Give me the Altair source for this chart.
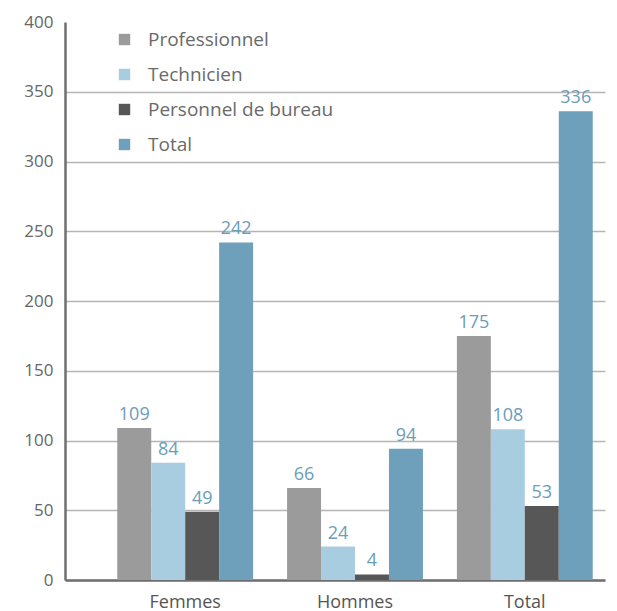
import altair as alt
import pandas as pd

groups = ["Femmes", "Hommes", "Total"]
series = ["Professionnel", "Technicien", "Personnel de bureau", "Total"]
values = {
    "Professionnel": [109, 66, 175],
    "Technicien": [84, 24, 108],
    "Personnel de bureau": [49, 4, 53],
    "Total": [242, 94, 336],
}
colors = ["#9b9b9b", "#a8cde0", "#575757", "#6e9fbb"]

rows = []
for s in series:
    for g, v in zip(groups, values[s]):
        rows.append({"groupe": g, "serie": s, "valeur": v})
df = pd.DataFrame(rows)

FONT = "Open Sans"

base = alt.Chart(df).encode(
    x=alt.X("groupe:N", sort=groups, title=None,
            scale=alt.Scale(paddingInner=0.2, paddingOuter=0.19, align=0.81),
            axis=alt.Axis(labelAngle=0, labelFontSize=18, labelColor="#555555",
                          labelFont=FONT, ticks=False, domainColor="#6f6f6f",
                          domainWidth=2.5, labelPadding=13)),
    xOffset=alt.XOffset("serie:N", sort=series),
)

bars = base.mark_bar().encode(
    y=alt.Y("valeur:Q", title=None,
            scale=alt.Scale(domain=[0, 400], nice=False),
            axis=alt.Axis(values=[0, 50, 100, 150, 200, 250, 300, 350, 400],
                          labelFontSize=17, labelColor="#666666", labelFont=FONT,
                          ticks=False, domainColor="#6f6f6f", domainWidth=2.5,
                          gridColor="#b5b5b5", gridWidth=1.5, labelPadding=12,
                          gridOpacity={"condition": {"test": "datum.value == 400", "value": 0},
                                       "value": 1})),
    color=alt.Color("serie:N", sort=series,
                    scale=alt.Scale(domain=series, range=colors),
                    legend=alt.Legend(title=None, orient="none", legendX=50, legendY=8,
                                      symbolType="square", symbolSize=130,
                                      symbolStrokeWidth=0, labelFontSize=19,
                                      labelColor="#6a6a6a", labelFont=FONT,
                                      rowPadding=15, labelOffset=14, labelLimit=400)),
)

labels = base.mark_text(baseline="bottom", dy=-4, fontSize=18, font=FONT,
                        color="#6a9dba").encode(
    y=alt.Y("valeur:Q"),
    text=alt.Text("valeur:Q"),
)

chart = alt.layer(bars, labels).properties(
    width=540, height=558,
    autosize=alt.AutoSizeParams(type="none"),
    padding={"left": 57, "top": 14, "right": 4, "bottom": 31},
).configure_view(stroke=None).configure_axisX(grid=False)

chart.save("out.html", embed_options={"renderer": "svg", "actions": False})
